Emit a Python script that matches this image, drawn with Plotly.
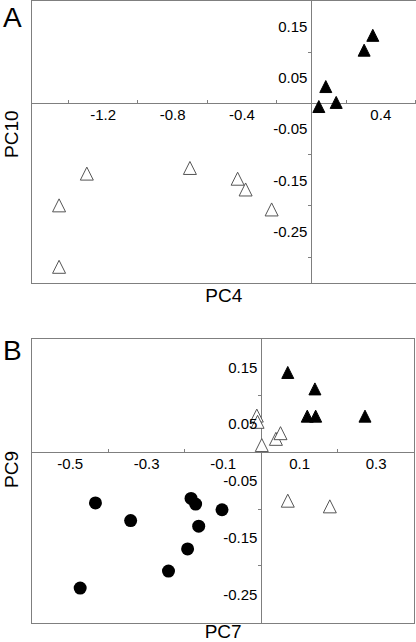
import plotly.graph_objects as go

# ---------------- Panel A data (PC4 vs PC10) ----------------
a_filled_x = [0.354, 0.304, 0.083, 0.143, 0.043]
a_filled_y = [0.133, 0.104, 0.033, 0.002, -0.006]
a_open_x = [-1.454, -1.294, -0.700, -0.425, -0.379, -0.229, -1.454]
a_open_y = [-0.199, -0.137, -0.126, -0.147, -0.168, -0.207, -0.319]

a_xtick_vals = [-1.2, -0.8, -0.4, 0.4]
a_xtick_text = ["-1.2", "-0.8", "-0.4", "0.4"]
a_xminor = [-1.4, -1.0, -0.6, -0.2, 0.2, 0.6]
a_ytick_vals = [0.15, 0.05, -0.05, -0.15, -0.25]
a_ytick_text = ["0.15", "0.05", "-0.05", "-0.15", "-0.25"]
a_yminor = [0.1, -0.1, -0.2, -0.3]

# ---------------- Panel B data (PC7 vs PC9) ----------------
b_filled_x = [0.069, 0.140, 0.120, 0.142, 0.271]
b_filled_y = [0.141, 0.112, 0.064, 0.064, 0.064]
b_open_x = [-0.012, -0.010, 0.001, 0.038, 0.050, 0.069, 0.179]
b_open_y = [0.065, 0.054, 0.013, 0.024, 0.034, -0.085, -0.095]
b_circle_x = [-0.434, -0.342, -0.184, -0.172, -0.103, -0.164, -0.193, -0.243, -0.474]
b_circle_y = [-0.089, -0.120, -0.081, -0.091, -0.101, -0.130, -0.170, -0.209, -0.239]

b_xtick_vals = [-0.5, -0.3, -0.1, 0.1, 0.3]
b_xtick_text = ["-0.5", "-0.3", "-0.1", "0.1", "0.3"]
b_xminor = [-0.4, -0.2, 0.2]
b_ytick_vals = [0.15, 0.05, -0.05, -0.15, -0.25]
b_ytick_text = ["0.15", "0.05", "-0.05", "-0.15", "-0.25"]
b_yminor = [0.1, -0.1, -0.2]

# ---------------- layout parameters ----------------
W, H = 416, 642
ML = 32
PW = W - ML
FONT = "Liberation Sans, Arial, sans-serif"
GREY = "#7f7f7f"
A_XR, A_YR = [-1.61, 0.60], [-0.35, 0.20]
B_XR, B_YR = [-0.60, 0.40], [-0.30, 0.20]
A_XD, A_YD = [0.0, 0.9987], [0.5597, 0.9984]
B_XD, B_YD = [0.0, 0.9956], [0.0301, 0.4720]


def zero_pos(rng, dom):
    return dom[0] + (0 - rng[0]) / (rng[1] - rng[0]) * (dom[1] - dom[0])


def tri(size, color, line_color):
    # upward triangle, equal width/height, centred on the data point
    return dict(symbol="arrow-down", angle=180, standoff=size / 2, size=size,
                color=color, line=dict(color=line_color, width=1))


fig = go.Figure()
# panel A
fig.add_trace(go.Scatter(x=a_open_x, y=a_open_y, mode="markers", xaxis="x", yaxis="y",
                         marker=tri(13, "white", "#555555"), showlegend=False))
fig.add_trace(go.Scatter(x=a_filled_x, y=a_filled_y, mode="markers", xaxis="x", yaxis="y",
                         marker=tri(12, "black", "black"), showlegend=False))
# panel B
fig.add_trace(go.Scatter(x=b_circle_x, y=b_circle_y, mode="markers", xaxis="x2", yaxis="y2",
                         marker=dict(symbol="circle", size=13, color="black"), showlegend=False))
fig.add_trace(go.Scatter(x=b_open_x, y=b_open_y, mode="markers", xaxis="x2", yaxis="y2",
                         marker=tri(13, "white", "#555555"), showlegend=False))
fig.add_trace(go.Scatter(x=b_filled_x, y=b_filled_y, mode="markers", xaxis="x2", yaxis="y2",
                         marker=tri(12, "black", "black"), showlegend=False))
# empty traces to instantiate tick axes crossing at zero
fig.add_trace(go.Scatter(x=[], y=[], xaxis="x3", yaxis="y3", showlegend=False))
fig.add_trace(go.Scatter(x=[], y=[], xaxis="x4", yaxis="y4", showlegend=False))

frame = dict(showline=True, mirror=True, linecolor=GREY, linewidth=1, zeroline=True,
             zerolinecolor=GREY, zerolinewidth=1, showgrid=False, showticklabels=False,
             ticks="", automargin=False)
tickfont = dict(family=FONT, size=15, color="black")
titlefont = dict(family=FONT, size=19, color="black")


def xticks_axis(overlay, rng, dom, pos, vals, text, minor):
    return dict(overlaying=overlay, anchor="free", position=pos, range=rng, domain=dom,
                side="bottom", showline=False, zeroline=False, showgrid=False,
                tickmode="array", tickvals=vals, ticktext=text, ticks="", tickfont=tickfont,
                ticklabelstandoff=1,
                minor=dict(tickmode="array", tickvals=minor, ticks="inside", ticklen=3,
                           tickwidth=1, tickcolor=GREY),
                automargin=False)


def yticks_axis(overlay, rng, dom, pos, vals, text, minor):
    return dict(overlaying=overlay, anchor="free", position=pos, range=rng, domain=dom,
                side="left", showline=False, zeroline=False, showgrid=False,
                tickmode="array", tickvals=vals, ticktext=text, ticks="", tickfont=tickfont,
                ticklabelstandoff=4,
                minor=dict(tickmode="array", tickvals=minor, ticks="outside", ticklen=3,
                           tickwidth=1, tickcolor=GREY),
                automargin=False)


def ytitle(text, ypx):
    return dict(text=text, x=(11 - ML) / PW, y=(H - ypx) / H, xref="paper",
                yref="paper", showarrow=False, textangle=-90, font=titlefont,
                xanchor="center", yanchor="middle", borderpad=0)


fig.update_layout(
    width=W, height=H,
    margin=dict(l=ML, r=0, t=0, b=0),
    paper_bgcolor="white", plot_bgcolor="white",
    font=dict(family=FONT, color="black"),
    xaxis=dict(frame, domain=A_XD, range=A_XR, anchor="y",
               title=dict(text="PC4", font=titlefont, standoff=6)),
    yaxis=dict(frame, domain=A_YD, range=A_YR, anchor="x"),
    xaxis2=dict(frame, domain=B_XD, range=B_XR, anchor="y2",
                title=dict(text="PC7", font=titlefont, standoff=6)),
    yaxis2=dict(frame, domain=B_YD, range=B_YR, anchor="x2"),
    xaxis3=xticks_axis("x", A_XR, A_XD, zero_pos(A_YR, A_YD), a_xtick_vals, a_xtick_text, a_xminor),
    yaxis3=yticks_axis("y", A_YR, A_YD, zero_pos(A_XR, A_XD), a_ytick_vals, a_ytick_text, a_yminor),
    xaxis4=xticks_axis("x2", B_XR, B_XD, zero_pos(B_YR, B_YD), b_xtick_vals, b_xtick_text, b_xminor),
    yaxis4=yticks_axis("y2", B_YR, B_YD, zero_pos(B_XR, B_XD), b_ytick_vals, b_ytick_text, b_yminor),
    annotations=[
        dict(text="A", x=(12 - ML) / PW, y=1.0, xref="paper", yref="paper", showarrow=False,
             font=dict(family=FONT, size=28, color="black"), xanchor="center", yanchor="top"),
        dict(text="B", x=(12 - ML) / PW, y=0.4548, xref="paper", yref="paper", showarrow=False,
             font=dict(family=FONT, size=28, color="black"), xanchor="center", yanchor="middle"),
        ytitle("PC10", 134),
        ytitle("PC9", 470),
    ],
)

fig.write_html("out.html", config={"displayModeBar": False},
               post_script="document.body.style.margin='0';document.body.style.overflow='hidden';")
